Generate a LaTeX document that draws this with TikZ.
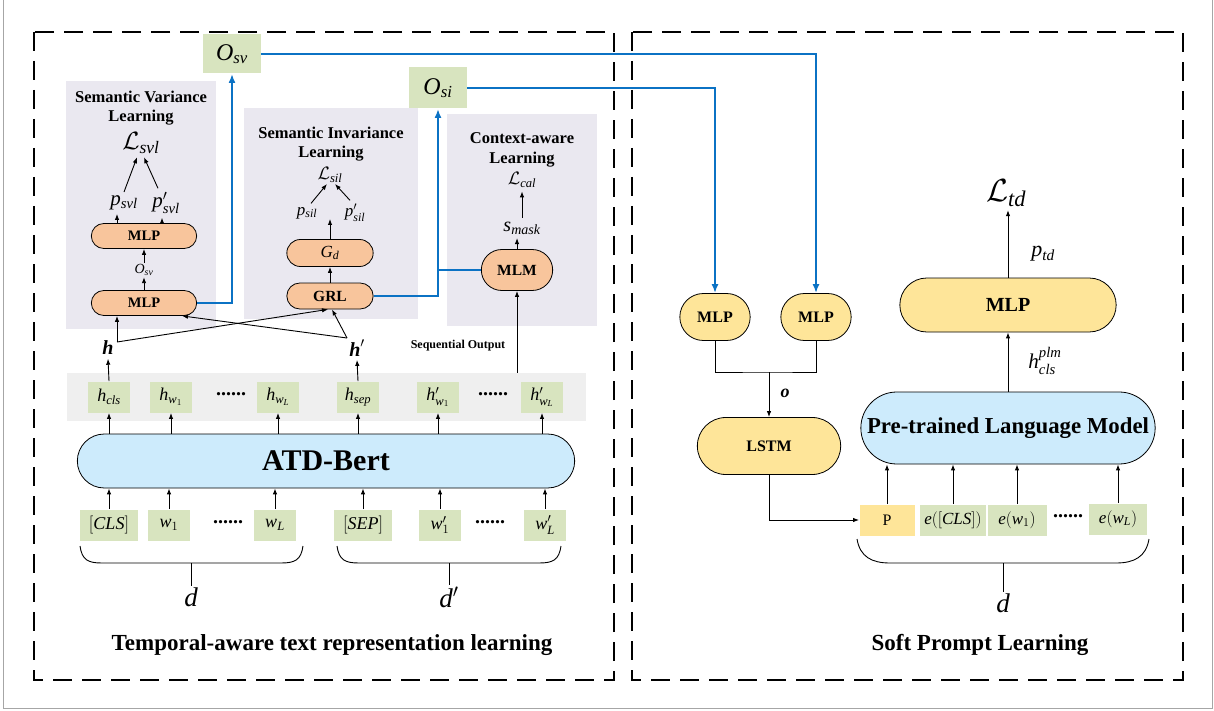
\RequirePackage{fix-cm}
\documentclass[tikz,border=0pt]{standalone}
\usepackage{amsmath}
\usepackage{bm}
\usepackage{fontspec}
\setmainfont{Liberation Serif}
\usetikzlibrary{arrows.meta}
\usetikzlibrary{positioning,shapes.misc}
\definecolor{tokgreen}{HTML}{D8E4BF}
\definecolor{panelgray}{HTML}{EAE8F0}
\definecolor{bandgray}{HTML}{EFEFEF}
\definecolor{peach}{HTML}{F8C59C}
\definecolor{softyellow}{HTML}{FEE599}
\definecolor{skyfill}{HTML}{CDEBFC}
\definecolor{linkblue}{HTML}{0B72C4}
\newcommand{\fsz}[1]{\fontsize{#1}{#1}\selectfont}

% Times-like letters in math
\DeclareSymbolFont{tletters}{TU}{\rmdefault}{m}{it}
\SetSymbolFont{tletters}{bold}{TU}{\rmdefault}{b}{it}
\DeclareSymbolFont{tupright}{TU}{\rmdefault}{m}{n}
\makeatletter
\count@=`a
\loop\Umathcode\count@=7 \symtletters\count@ \ifnum\count@<`z\advance\count@ 1\repeat
\count@=`A
\loop\Umathcode\count@=7 \symtletters\count@ \ifnum\count@<`Z\advance\count@ 1\repeat
\count@=`0
\loop\Umathcode\count@=7 \symtupright\count@ \ifnum\count@<`9\advance\count@ 1\repeat
\Umathcode`(=4 \symtupright`(
\Umathcode`)=5 \symtupright`)
\Umathcode`[=4 \symtupright`[
\Umathcode`]=5 \symtupright`]
\makeatother

\tikzset{
  tok/.style={fill=tokgreen, minimum height=31pt, inner sep=1pt, font=\fsz{18}},
  pill/.style={rounded rectangle, draw, line width=0.8pt},
  panel/.style={fill=panelgray, inner sep=0pt},
  heading/.style={font=\bfseries\fontsize{16.5}{19.5}\selectfont, align=center},
  link/.style={draw=linkblue, line width=1.8pt, -{Latex[length=9pt,width=7pt]}},
  frame/.style={dash pattern=on 19pt off 10pt, line width=2.2pt}
}

\begin{document}
\begin{tikzpicture}[x=1pt,y=-1pt,>={Latex[length=6pt,width=4.5pt]},line width=0.9pt]
    \useasboundingbox (0,0) rectangle (1214,711);
    \draw[gray!70, line width=0.8pt] (3,0) -- (3,708) -- (1212,708) -- (1212,0);

    % the two parts
    \draw[frame] (34,32) rectangle (614,680);
    \draw[frame] (632,32) rectangle (1183,680);

    % grey panels
    \node[panel, minimum width=150pt, minimum height=248pt] (svlbox) at (141,205) {};
    \node[panel, minimum width=174pt, minimum height=211pt] (silbox) at (331,213.5) {};
    \node[panel, minimum width=150pt, minimum height=212pt] (calbox) at (522,220) {};
    \node[fill=bandgray, minimum width=519pt, minimum height=48pt] (band) at (326.5,397) {};

    % outputs
    \node[fill=tokgreen, minimum width=58pt, minimum height=39pt, font=\fsz{24}] (osv) at (232,54) {$O_{sv}$};
    \node[fill=tokgreen, minimum width=58pt, minimum height=41pt, font=\fsz{24}] (osi) at (438,88) {$O_{si}$};

    % semantic variance learning
    \node[heading] (svlt) at (141,108) {Semantic Variance\\Learning};
    \node[font=\fsz{25}] (lsvl) at (141,143) {$\mathcal{L}_{svl}$};
    \node[font=\fsz{21}] (psvl) at (124,203) {$p_{svl}$};
    \node[font=\fsz{21}] (ppsvl) at (166,203) {$p'_{svl}$};
    \node[pill, fill=peach, minimum width=112pt, minimum height=25pt, font=\bfseries\fsz{14.5}] (mlpa) at (144,236) {MLP};
    \node[font=\fsz{14}, inner sep=1pt] (osvs) at (144,270) {$O_{sv}$};
    \node[pill, fill=peach, minimum width=112pt, minimum height=25pt, font=\bfseries\fsz{14.5}] (mlpb) at (144,303) {MLP};

    \draw[->] (mlpb.north) -- (osvs.south);
    \draw[->] (osvs.north) -- (mlpa.south);
    \draw[->] ([xshift=-27pt]mlpa.north) -- ([xshift=-27pt]mlpa.north |- psvl.south);
    \draw[->] ([xshift=18pt]mlpa.north) -- ([xshift=18pt]mlpa.north |- ppsvl.south);
    \draw[->] (psvl.north) -- ([xshift=-4pt]lsvl.south);
    \draw[->] ([xshift=-8pt]ppsvl.north) -- ([xshift=3pt]lsvl.south);

    % semantic invariance learning
    \node[heading] (silt) at (331,144) {Semantic Invariance\\Learning};
    \node[font=\fsz{18}, inner sep=1pt] (lsil) at (330,175) {$\mathcal{L}_{sil}$};
    \node[font=\fsz{17}] (psil) at (307,213) {$p_{sil}$};
    \node[font=\fsz{17}] (ppsil) at (355,213) {$p'_{sil}$};
    \node[pill, fill=peach, minimum width=93pt, minimum height=27pt, font=\fsz{17}] (gd) at (330,253) {$G_d$};
    \node[pill, fill=peach, minimum width=93pt, minimum height=26pt, font=\bfseries\fsz{15.5}] (grl) at (330,296) {GRL};
    \coordinate (gdtip) at (330,219);

    \draw[->] (grl.north) -- (gd.south);
    \draw[->] (gd.north) -- (gdtip);
    \draw[->] ([xshift=4pt]psil.north) -- ([xshift=-3pt]lsil.south);
    \draw[->] ([xshift=-5pt]ppsil.north) -- ([xshift=5pt]lsil.south);

    % context-aware learning
    \node[heading] (calt) at (522,150) {Context-aware\\Learning};
    \node[font=\fsz{18}] (lcal) at (522,180) {$\mathcal{L}_{cal}$};
    \node[font=\fsz{20}] (smask) at (522,228) {$s_{mask}$};
    \node[pill, fill=peach, minimum width=78pt, minimum height=41pt, font=\bfseries\fsz{15.5}] (mlm) at (517,270) {MLM};

    \draw[->] (smask.north) -- (lcal.south);
    \draw[->] (mlm.north) -- (mlm.north |- smask.south);
    \draw[->] (band.north -| mlm) -- (mlm.south);
    \node[font=\bfseries\fsz{12}] (seqout) at (458,346) {Sequential Output};

    % blue links on the left
    \draw[link] (mlpb.east) -| (osv.south);
    \draw[link] (grl.east) -| (osi.south);
    \draw[link, -] (mlm.west) -- (mlm.west -| osi.south);

    % h and h'
    \node[font=\fsz{20}] (h) at (108,348) {$\bm{h}$};
    \node[font=\fsz{20}] (hp) at (357,348) {$\bm{h}'$};
    \coordinate (hj) at (117,342);
    \coordinate (hpj) at (347,338);
    \draw[->] (hj) -- (hj |- mlpb.south);
    \draw[->] (hj) -- ([xshift=-2pt]grl.south);
    \draw[->] (hpj) -- ([xshift=38pt]mlpb.south);
    \draw[->] (hpj) -- ([xshift=2pt]grl.south);

    % hidden states
    \node[tok, minimum width=42pt] (hcls) at (109,397) {$h_{cls}$};
    \node[tok, minimum width=42pt] (hw1) at (171,397) {$h_{w_1}$};
    \node[font=\bfseries\fsz{20}] (hdots) at (231,394) {......};
    \node[tok, minimum width=42pt] (hwl) at (278,397) {$h_{w_L}$};
    \node[tok, minimum width=42pt] (hsep) at (358,397) {$h_{sep}$};
    \node[tok, minimum width=42pt] (hpw1) at (438,397) {$h'_{w_1}$};
    \node[font=\bfseries\fsz{20}] (hpdots) at (493,394) {......};
    \node[tok, minimum width=42pt] (hpwl) at (542,397) {$h'_{w_L}$};

    \draw[->] (hcls.north) -- (h.south);
    \draw[->] (hsep.north) -- (hp.south);

    % encoder
    \node[pill, fill=skyfill, minimum width=504pt, minimum height=54pt, font=\bfseries\fsz{30}] (atd) at (326,461) {ATD-Bert};

    % inputs
    \node[tok, minimum width=58pt] (cls) at (109,525) {$[CLS]$};
    \node[tok, minimum width=42pt] (w1) at (169,525) {$w_1$};
    \node[font=\bfseries\fsz{20}] (wdots) at (228,522) {......};
    \node[tok, minimum width=42pt] (wl) at (275,525) {$w_L$};
    \node[tok, minimum width=58pt] (sep) at (363,525) {$[SEP]$};
    \node[tok, minimum width=42pt] (wp1) at (440,525) {$w'_1$};
    \node[font=\bfseries\fsz{20}] (wpdots) at (490,522) {......};
    \node[tok, minimum width=42pt] (wpl) at (545,525) {$w'_L$};

    \foreach \t in {cls,w1,wl,sep,wp1,wpl}
      \draw[->] (\t.north) -- (\t.north |- atd.south);
    \foreach \t in {hcls,hw1,hwl,hsep,hpw1,hpwl}
      \draw[->] (\t.south |- atd.north) -- (\t.south);

    % braces under the inputs
    \draw (80,546) .. controls (82,560) and (88,563) .. (102,563) -- (281,563) .. controls (295,563) and (301,560) .. (303,546);
    \draw (337,546) .. controls (339,560) and (345,563) .. (359,563) -- (539,563) .. controls (553,563) and (559,560) .. (561,546);
    \node[font=\fsz{27}, inner sep=1pt] (dd) at (191,597) {$d$};
    \node[font=\fsz{27}, inner sep=1pt] (ddp) at (449,597) {$d'$};
    \draw (191,563) -- (dd.north);
    \draw (449,563) -- (ddp.north);

    \node[font=\bfseries\fsz{23}] (leftt) at (332,645) {Temporal-aware text representation learning};

    % soft prompt learning
    \node[pill, fill=softyellow, minimum width=77pt, minimum height=47pt, font=\bfseries\fsz{16}] (mlpl) at (715,317) {MLP};
    \node[pill, fill=softyellow, minimum width=77pt, minimum height=47pt, font=\bfseries\fsz{16}] (mlpr) at (816,317) {MLP};
    \node[pill, fill=softyellow, minimum width=150pt, minimum height=57pt, font=\bfseries\fsz{16}] (lstm) at (769,446) {LSTM};
    \coordinate (ojoin) at (769,372);
    \node[font=\fsz{18}] (olab) at (785,393) {$\bm{o}$};

    \draw[link] (osi.east) -| (mlpl.north);
    \draw[link] (osv.east) -| (mlpr.north);
    \draw (mlpl.south) |- (ojoin) -| (mlpr.south);
    \draw[->] (ojoin) -- (lstm.north);

    \node[fill=softyellow, minimum width=55pt, minimum height=31pt, font=\fsz{16}] (pbox) at (887,520) {P};
    \node[tok, minimum width=66pt, font=\fsz{17}, inner sep=0pt] (ecls) at (953,520) {$e([CLS])$};
    \node[tok, minimum width=59pt, font=\fsz{17}] (ew1) at (1017,520) {$e(w_1)$};
    \node[font=\bfseries\fsz{20}] (edots) at (1068,516) {......};
    \node[tok, minimum width=58pt, font=\fsz{17}] (ewl) at (1118,519) {$e(w_L)$};

    \draw[->] (lstm.south) |- (pbox.west);

    \node[pill, fill=skyfill, minimum width=301pt, minimum height=72pt, font=\bfseries\fsz{22.8}] (plm) at (1008,428) {Pre-trained Language Model};
    \foreach \t in {pbox,ecls,ew1,ewl}
      \draw[->] (\t.north) -- (\t.north |- plm.south);

    \node[pill, fill=softyellow, minimum width=223pt, minimum height=54pt, font=\bfseries\fsz{20}] (mlpt) at (1008,305) {MLP};
    \node[font=\fsz{21}] (hplm) at (1045,361) {$h_{cls}^{plm}$};
    \node[font=\fsz{22}] (ptd) at (1043,254) {$p_{td}$};
    \node[font=\fsz{32}] (ltd) at (1006,193) {$\mathcal{L}_{td}$};

    \draw[->] (plm.north) -- (mlpt.south);
    \draw[->] (mlpt.north) -- (mlpt.north |- ltd.south);

    \draw (857,539) .. controls (860,557) and (872,563) .. (890,563) -- (1116,563) .. controls (1134,563) and (1146,557) .. (1149,539);
    \node[font=\fsz{27}, inner sep=1pt] (de) at (1003,603) {$d$};
    \draw (1003,563) -- (de.north);

    \node[font=\bfseries\fsz{23}] (rightt) at (980,645) {Soft Prompt Learning};
\end{tikzpicture}
\end{document}
